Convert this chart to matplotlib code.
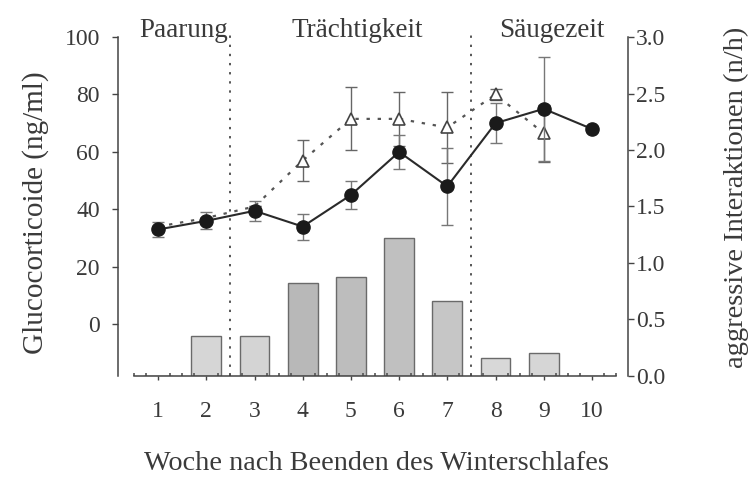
import numpy as np
import matplotlib
matplotlib.use('Agg')
import matplotlib.pyplot as plt
from matplotlib.ticker import MultipleLocator

# ---------- Daten ----------
wochen = [1, 2, 3, 4, 5, 6, 7, 8, 9, 10]
kreis_werte = [33, 36, 39.5, 34, 45, 60, 48, 70, 75, 68]
kreis_fehler = [2.5, 3, 3.5, 4.5, 5, 6, 13.5, 7, 18, 0]
dreieck_werte = [34, 37, 41, 57, 71.5, 71.5, 68.5, 80, 66.5, np.nan]
dreieck_fehler = [0, 0, 0, 7, 11, 9.5, 12.5, 2, 10, 0]
aggression = [0.0, 0.35, 0.35, 0.82, 0.88, 1.22, 0.66, 0.16, 0.20, 0.0]
balken_farben = ['#d8d8d8', '#d6d6d6', '#d4d4d4', '#b8b8b8', '#bdbdbd',
                 '#c0c0c0', '#c6c6c6', '#d8d8d8', '#d6d6d6', '#d8d8d8']
phasen = ['Paarung', 'Trächtigkeit', 'Säugezeit']
phasen_x = [1.52, 5.13, 9.17]
grenzen = [2.5, 7.5]

TXT = '#3a3a3a'
plt.rcParams['font.family'] = ['Liberation Serif', 'DejaVu Serif']

fig = plt.figure(figsize=(7.55, 4.87), dpi=100)
ax = fig.add_axes([0.1775, 0.228, 0.6384, 0.696])
ax2 = ax.twinx()

# Balken (rechte Achse)
ax2.bar(wochen, aggression, width=0.62, color=balken_farben,
        edgecolor='#6a6a6a', linewidth=1.0, zorder=1)
ax2.set_ylim(0, 3.0)
ax2.set_zorder(0)
ax.set_zorder(1)
ax.patch.set_visible(False)

# Linien (linke Achse)
ax.errorbar(wochen, dreieck_werte, yerr=dreieck_fehler, fmt='none',
            ecolor='#666666', elinewidth=1.0, capsize=4, zorder=3)
ax.plot(wochen, dreieck_werte, linestyle=(0, (1.5, 3.5)), color='#555555',
        linewidth=1.6, zorder=3)
ax.plot(wochen[3:9], dreieck_werte[3:9], linestyle='none', marker='^',
        markersize=8, markerfacecolor='white', markeredgecolor='#444444',
        markeredgewidth=1.2, zorder=4)
ax.errorbar(wochen, kreis_werte, yerr=kreis_fehler, fmt='none',
            ecolor='#777777', elinewidth=1.0, capsize=4, zorder=5)
ax.plot(wochen, kreis_werte, '-o', color='#2a2a2a', linewidth=1.5,
        markersize=9.5, markerfacecolor='#1a1a1a', markeredgecolor='#1a1a1a',
        zorder=6)

ax.set_xlim(0.5, 10.5)
ax.set_ylim(-18, 100)
ax.set_yticks([0, 20, 40, 60, 80, 100])
ax.set_xticks(wochen)

# Phasengrenzen und Beschriftungen
for g in grenzen:
    ax.axvline(g, ymin=0, ymax=1.02, clip_on=False, color='#555555',
               linestyle=(0, (1.2, 3.5)), linewidth=1.4, zorder=2)
for name, x in zip(phasen, phasen_x):
    ax.text(x, 1.02, name, transform=ax.get_xaxis_transform(), ha='center',
            va='center', fontsize=19.5, color=TXT)

# Achsen-Stil
for a in (ax, ax2):
    a.spines['top'].set_visible(False)
ax.spines['right'].set_visible(False)
ax2.spines['left'].set_visible(False)
ax2.spines['bottom'].set_visible(False)
ax.spines['left'].set_position(('outward', 11.5))
ax2.spines['right'].set_position(('outward', 8.5))
for s in (ax.spines['left'], ax2.spines['right'], ax.spines['bottom']):
    s.set_color('#444444')
    s.set_linewidth(1.1)

ax.xaxis.set_minor_locator(MultipleLocator(0.25))
ax.tick_params(axis='x', which='major', direction='out', length=3,
               width=1, colors='#444444', labelcolor=TXT, labelsize=17, pad=15)
ax.tick_params(axis='x', which='minor', direction='in', length=2,
               width=1.2, colors='#555555')
ax.tick_params(axis='y', direction='out', length=4, width=1,
               colors='#444444', labelcolor=TXT, labelsize=17, pad=9)
ax2.tick_params(axis='y', direction='out', length=4, width=1,
                colors='#444444', labelcolor=TXT, labelsize=17, pad=2)
ax2.set_yticks([0.0, 0.5, 1.0, 1.5, 2.0, 2.5, 3.0])
ax2.set_yticklabels([f'{v:.1f}' for v in [0.0, 0.5, 1.0, 1.5, 2.0, 2.5, 3.0]])

ax.set_ylabel('Glucocorticoide (ng/ml)', fontsize=21, color=TXT)
ax2.set_ylabel('aggressive Interaktionen (n/h)', fontsize=20.5, color=TXT)
ax.set_xlabel('Woche nach Beenden des Winterschlafes', fontsize=20.3,
              color=TXT)
ax.yaxis.set_label_coords(36 / 755, 1 - 213 / 487, transform=fig.transFigure)
ax2.yaxis.set_label_coords(736 / 755, 1 - 197 / 487, transform=fig.transFigure)
ax.xaxis.set_label_coords(376 / 755, 1 - 464 / 487, transform=fig.transFigure)
ax.xaxis.label.set_va('center')
ax.yaxis.label.set_va('center')
ax2.yaxis.label.set_va('center')

fig.savefig('out.png', dpi=100)
